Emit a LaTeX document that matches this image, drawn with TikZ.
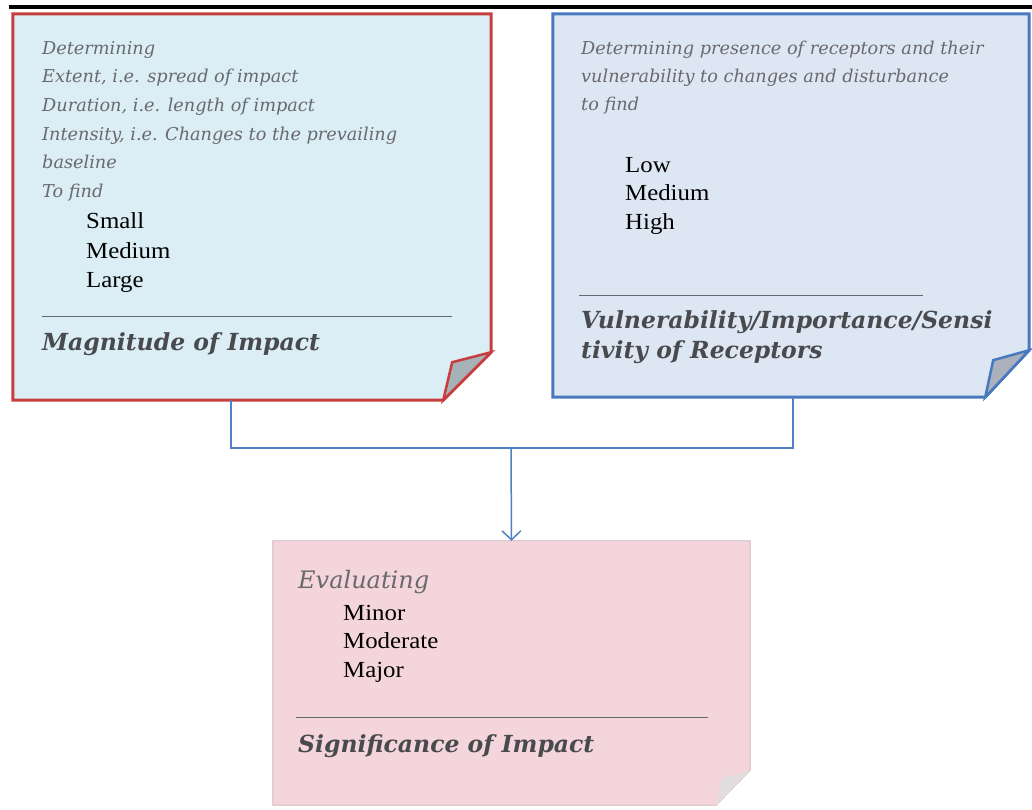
\documentclass[tikz,border=0pt]{standalone}
\usepackage{fontspec}
\setmainfont{Liberation Serif}
\newfontfamily\dvs{DejaVu Serif}
\newfontfamily\rmw[FakeStretch=1.08]{Liberation Serif}
\usetikzlibrary{arrows.meta}
\definecolor{redb}{RGB}{200,62,62}
\definecolor{blueb}{RGB}{72,120,190}
\definecolor{fillA}{RGB}{219,237,245}
\definecolor{fillB}{RGB}{221,231,243}
\definecolor{fillC}{RGB}{243,213,219}
\definecolor{foldA}{RGB}{165,178,184}
\definecolor{foldB}{RGB}{170,176,188}
\definecolor{foldC}{RGB}{226,222,224}
\definecolor{itgray}{RGB}{105,105,110}
\definecolor{hdgray}{RGB}{72,74,78}
\definecolor{rulegray}{RGB}{95,105,112}
\definecolor{connc}{RGB}{80,130,195}
\begin{document}
\begin{tikzpicture}[x=1pt,y=-1pt,
  itline/.style={anchor=base west, inner sep=0pt, font=\dvs\itshape\fontsize{17.7}{20}\selectfont, text=itgray},
  evline/.style={anchor=base west, inner sep=0pt, font=\dvs\itshape\fontsize{24}{28}\selectfont, text=itgray},
  rmline/.style={anchor=base west, inner sep=0pt, font=\rmw\fontsize{23}{26}\selectfont, text=black},
  hdline/.style={anchor=base west, inner sep=0pt, font=\dvs\bfseries\itshape\fontsize{23.5}{27}\selectfont, text=hdgray},
  boxarea/.style={inner sep=0pt, minimum width=#1},
  rulel/.style={draw=rulegray, line width=1pt},
  connl/.style={draw=connc, line width=1.5pt}
]
\useasboundingbox (0,0) rectangle (1032,809);
\fill[black] (9,5) rectangle (1032,9);

% box areas
\node[boxarea=478pt, minimum height=386pt] (mag) at (252,207) {};
\node[boxarea=476pt, minimum height=383pt] (vul) at (791,205.5) {};
\node[boxarea=477pt, minimum height=264pt] (sig) at (511.5,673) {};

% red box
\draw[redb, line width=3pt, fill=fillA, line join=miter]
  (mag.north west) -- (mag.north east) -- ([yshift=48pt]mag.south east)
  -- ([xshift=-48pt]mag.south east) -- (mag.south west) -- cycle;
\draw[redb, line width=2.5pt, fill=foldA, line join=miter]
  ([yshift=48pt]mag.south east) -- ([xshift=-48pt]mag.south east)
  -- ([xshift=-39pt,yshift=38pt]mag.south east) -- cycle;

% blue box
\draw[blueb, line width=3pt, fill=fillB, line join=miter]
  (vul.north west) -- (vul.north east) -- ([yshift=47pt]vul.south east)
  -- ([xshift=-44pt]vul.south east) -- (vul.south west) -- cycle;
\draw[blueb, line width=2.5pt, fill=foldB, line join=miter]
  ([yshift=47pt]vul.south east) -- ([xshift=-44pt]vul.south east)
  -- ([xshift=-36pt,yshift=37pt]vul.south east) -- cycle;

% pink box
\draw[draw={rgb,255:red,200;green,180;blue,185}, line width=0.8pt, fill=fillC]
  (sig.north west) -- (sig.north east) -- ([yshift=35pt]sig.south east)
  -- ([xshift=-34pt]sig.south east) -- (sig.south west) -- cycle;
\fill[foldC]
  ([yshift=35pt]sig.south east) -- ([xshift=-34pt]sig.south east)
  -- ([xshift=-28pt,yshift=27pt]sig.south east) -- cycle;

% connectors
\coordinate (j) at (511,448);
\draw[connl] ([xshift=-21pt]mag.south) |- (j) -| ([xshift=2pt]vul.south);
\draw[connl, -{Straight Barb[length=9pt,width=19pt]}] (j) -- (sig.north);

% red box text
\node[itline] (m1) at (42,54) {Determining};
\node[itline] (m2) at (42,82) {Extent, i.e. spread of impact};
\node[itline] (m3) at (42,111) {Duration, i.e. length of impact};
\node[itline] (m4) at (42,140) {Intensity, i.e. Changes to the prevailing};
\node[itline] (m5) at (42,168) {baseline};
\node[itline] (m6) at (42,197) {To find};
\node[rmline] (m7) at (86,228) {Small};
\node[rmline] (m8) at (86,258) {Medium};
\node[rmline] (m9) at (86,287) {Large};
\draw[rulel] (42,316) -- (452,316);
\node[hdline] (mh) at (42,350) {Magnitude of Impact};

% blue box text
\node[itline] (v1) at (581,54) {Determining presence of receptors and their};
\node[itline] (v2) at (581,82) {vulnerability to changes and disturbance};
\node[itline] (v3) at (581,110) {to find};
\node[rmline] (v4) at (625,172) {Low};
\node[rmline] (v5) at (625,200) {Medium};
\node[rmline] (v6) at (625,229) {High};
\draw[rulel] (579,295) -- (923,295);
\node[hdline] (vh1) at (581,328) {Vulnerability/Importance/Sensi};
\node[hdline] (vh2) at (581,358) {tivity of Receptors};

% pink box text
\node[evline] (s1) at (298,588) {Evaluating};
\node[rmline] (s2) at (343,620) {Minor};
\node[rmline] (s3) at (343,648) {Moderate};
\node[rmline] (s4) at (343,677) {Major};
\draw[rulel] (296,717) -- (708,717);
\node[hdline] (sh) at (298,752) {Significance of Impact};
\end{tikzpicture}
\end{document}
